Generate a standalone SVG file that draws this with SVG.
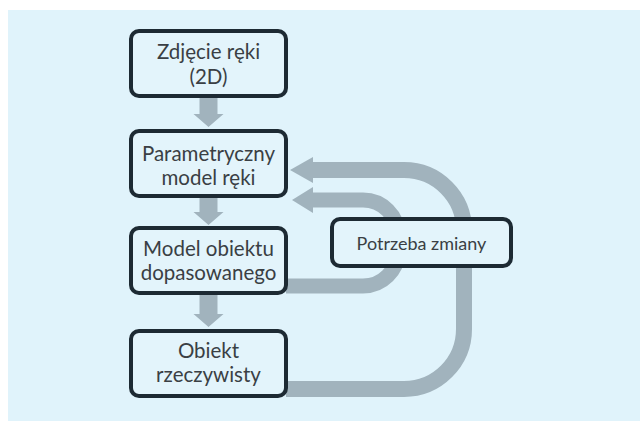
<svg xmlns="http://www.w3.org/2000/svg" width="640" height="421" viewBox="0 0 640 421">
<style>
.box{fill:#e3f4fb;stroke:#1d2a33;stroke-width:4}
.t{font-family:Lato,"Open Sans",sans-serif;font-size:20.5px;fill:#3a3f44;text-anchor:middle}
.ts{font-family:Lato,"Open Sans",sans-serif;font-size:18px;fill:#3a3f44;text-anchor:middle}
.band{fill:none;stroke:#a1b3bd}
.head{fill:#a1b3bd}
</style>
<rect x="8" y="10" width="632" height="411" fill="#e0f3fb"/>
<g id="connectors">
<polygon class="head" points="199.5,98 217.5,98 217.5,114 223.5,114 208.5,127 193.5,114 199.5,114"/>
<polygon class="head" points="199.5,198 217.5,198 217.5,212 223.5,212 208.5,225 193.5,212 199.5,212"/>
<polygon class="head" points="199.5,295 217.5,295 217.5,314 223.5,314 208.5,327 193.5,314 199.5,314"/>
<path class="band" stroke-width="16" d="M 286 389 H 404 A 60 60 0 0 0 464 329 V 230 A 60 60 0 0 0 404 170 H 312"/>
<polygon class="head" points="290,170 313,157 313,183"/>
<path class="band" stroke-width="15" d="M 286 286 H 363 A 35 35 0 0 0 398 251 V 235 A 35 35 0 0 0 363 200 H 312"/>
<polygon class="head" points="292,200 313,187 313,213"/>
</g>
<g id="n1"><rect class="box" x="131" y="31" width="155" height="65" rx="8"/>
<text class="t" x="208.5" y="59">Zdjęcie ręki</text><text class="t" x="208.5" y="84">(2D)</text></g>
<g id="n2"><rect class="box" x="131" y="131" width="155" height="65" rx="8"/>
<text class="t" x="208.5" y="161">Parametryczny</text><text class="t" x="208.5" y="185">model ręki</text></g>
<g id="n3"><rect class="box" x="131" y="228" width="155" height="65" rx="8"/>
<text class="t" x="208.5" y="256">Model obiektu</text><text class="t" x="208.5" y="280">dopasowanego</text></g>
<g id="n4"><rect class="box" x="131" y="331" width="155" height="65" rx="8"/>
<text class="t" x="208.5" y="358">Obiekt</text><text class="t" x="208.5" y="382">rzeczywisty</text></g>
<g id="n5"><rect class="box" x="332" y="219" width="179" height="47" rx="8"/>
<text class="ts" x="421.5" y="250">Potrzeba zmiany</text></g>
</svg>
